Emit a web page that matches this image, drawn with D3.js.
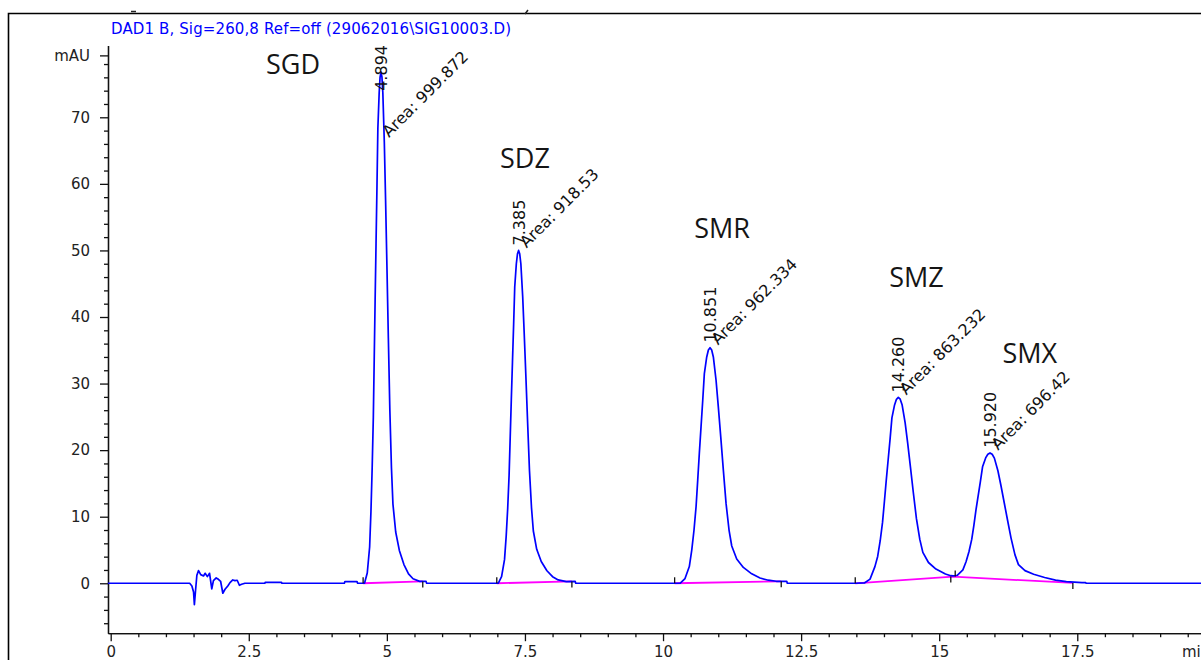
<!DOCTYPE html>
<html>
<head>
<meta charset="utf-8">
<title>DAD1 B chromatogram</title>
<script src="https://cdn.jsdelivr.net/npm/d3@7"></script>
<style>
	body { margin: 0; background: #fff; }
	svg text { font-family: "DejaVu Sans", sans-serif; }
	.tick text { font-size: 15px; fill: #222; }
	.peak-name { font-family: "Open Sans", sans-serif; font-size: 27px; fill: #151515; text-anchor: middle; }
</style>
</head>
<body>
<div id="chart"></div>
<script>
	// ---- data ----
	var title = 'DAD1 B, Sig=260,8 Ref=off (29062016\\SIG10003.D)';
	var yTicks = [0, 10, 20, 30, 40, 50, 60, 70];
	var xTicks = [0, 2.5, 5, 7.5, 10, 12.5, 15, 17.5];
	var yUnit = 'mAU', yUnitValue = 79.3, xUnit = 'min';

	var peakNames = ['SGD', 'SDZ', 'SMR', 'SMZ', 'SMX'];
	var peakTimes = [4.894, 7.385, 10.851, 14.260, 15.920];
	var peakHeights = [76.8, 50.0, 35.4, 27.9, 19.6];
	var peakAreas = ['999.872', '918.53', '962.334', '863.232', '696.42'];

	// signal trace (time in min, absorbance in mAU), one piece per region
	var noiseTrace = [[-0.05,0],[1.43,0],[1.47,-0.4],[1.50,-1.3],[1.515,-3.2],[1.535,-1.2],[1.56,1.2],[1.59,1.9],[1.63,1.3],
		[1.68,1.1],[1.71,1.5],[1.75,1.0],[1.79,1.5],[1.83,-0.85],[1.86,0.4],[1.91,0.8],[1.95,0.6],[1.99,0.3],[2.03,-1.5],
		[2.07,-0.9],[2.12,-0.4],[2.16,0.1],[2.21,0.5],[2.25,0.4],[2.29,0.45],[2.33,-0.3],[2.37,-0.15],[2.43,0]];
	var driftTrace = [[2.79,0],[2.80,0.15],[3.09,0.15],[3.10,0],[4.23,0],[4.24,0.25],[4.46,0.25],[4.47,0]];
	var sgdTrace = [[4.595,0],[4.645,1.54],[4.688,5.45],[4.712,10.83],[4.734,17.36],[4.755,24.96],[4.771,33.64],[4.787,42.32],
		[4.804,51.0],[4.821,59.67],[4.837,68.35],[4.861,73.73],[4.877,76.03],[4.894,76.8],[4.911,76.03],[4.927,73.73],
		[4.954,66.2],[4.977,57.52],[5.001,47.69],[5.027,36.86],[5.054,26.04],[5.083,17.36],[5.11,11.9],[5.16,7.7],
		[5.226,4.94],[5.309,2.81],[5.392,1.42],[5.474,0.68],[5.593,0.28],[5.71,0.28],[5.72,0]];
	var sdzTrace = [[7.016,0],[7.077,1.0],[7.13,3.55],[7.16,7.05],[7.188,11.3],[7.213,16.25],[7.233,21.9],[7.253,27.55],
		[7.274,33.2],[7.295,38.85],[7.315,44.5],[7.344,48.0],[7.365,49.5],[7.385,50.0],[7.405,49.5],[7.426,48.0],[7.459,43.1],
		[7.487,37.45],[7.517,31.05],[7.549,24.0],[7.582,16.95],[7.619,11.3],[7.652,7.85],[7.713,5.1],[7.795,3.26],
		[7.898,1.88],[8.0,0.99],[8.102,0.5],[8.249,0.25],[8.41,0.28],[8.42,0]];
	var smrTrace = [[10.308,0],[10.398,0.71],[10.476,2.51],[10.52,4.99],[10.561,8.0],[10.598,11.5],[10.628,15.5],[10.657,19.5],
		[10.688,23.5],[10.719,27.5],[10.748,31.5],[10.791,34.0],[10.821,35.05],[10.851,35.4],[10.881,35.05],[10.911,34.0],
		[10.96,30.5],[11.001,26.5],[11.045,22.0],[11.092,17.0],[11.141,12.0],[11.195,8.0],[11.244,5.6],[11.334,3.65],
		[11.454,2.38],[11.606,1.42],[11.756,0.79],[11.906,0.46],[12.05,0.3],[12.24,0.3],[12.25,0]];
	var smzSmxTrace = [[13.48,0],[13.646,0.05],[13.748,0.63],[13.836,2.5],[13.886,4.03],[13.932,6.39],[13.974,9.14],[14.008,12.28],
		[14.041,15.42],[14.076,18.56],[14.111,21.7],[14.144,24.84],[14.192,26.79],[14.226,27.63],[14.26,27.92],[14.294,27.65],
		[14.328,26.83],[14.383,24.14],[14.43,21.02],[14.479,17.48],[14.532,13.6],[14.588,9.7],[14.649,6.59],[14.704,4.64],
		[14.806,3.12],[14.941,2.13],[15.113,1.4],[15.209,1.14],[15.25,1.1],[15.283,1.13],[15.327,1.2],[15.429,2.02],
		[15.486,3.23],[15.54,4.77],[15.589,6.59],[15.628,8.69],[15.666,11.02],[15.706,13.16],[15.747,15.34],[15.785,17.49],
		[15.841,18.83],[15.881,19.39],[15.92,19.58],[15.959,19.38],[15.999,18.8],[16.063,16.9],[16.117,14.73],[16.174,12.25],
		[16.236,9.54],[16.3,6.82],[16.371,4.3],[16.435,2.8],[16.553,1.9],[16.71,1.35],[16.909,0.87],[17.106,0.47],
		[17.302,0.26],[17.584,0.1],[17.65,0.1],[17.66,0],[19.74,0]];

	// integration baselines and their start / end marks
	var integBaselines = [
		[[4.57,0],[5.65,0.28]],
		[[6.99,0],[8.35,0.28]],
		[[10.21,0],[12.14,0.3]],
		[[13.48,0],[15.25,1.0],[17.42,0.05]]
	];
	var integStarts = [[4.57,0],[6.99,0],[10.21,0],[13.48,0],[15.29,1.0]];
	var integEnds = [[5.65,0.28],[8.35,0.28],[12.14,0.3],[15.21,1.0],[17.42,0.05]];

	// ---- layout ----
	var w = 1201,
		h = 660,
		plotTop = 45;

	var svg = d3.select('#chart')
		.append('svg')
		.attr('width', w)
		.attr('height', h);

	var xScale = d3.scaleLinear().domain([-0.0489, 19.74]).range([108, 1201]);
	var yScale = d3.scaleLinear().domain([-7.5, 80.8]).range([633.2, 45.4]);

	// outer frame (left and top edge of the window)
	svg.append('path')
		.attr('d', 'M8.5,660V13.5H1201')
		.attr('fill', 'none')
		.attr('stroke', '#000')
		.attr('stroke-width', 1.6);
	// small cut-off marks above the frame
	svg.append('path')
		.attr('d', 'M131,11.5H136M525,14L528,10')
		.attr('stroke', '#222')
		.attr('stroke-width', 1.5);

	svg.append('text')
		.attr('x', 111)
		.attr('y', 34)
		.attr('fill', '#0000ff')
		.attr('textLength', 400)
		.style('font-size', '15px')
		.text(title);

	// ---- axes ----
	var isMajorY = function(v) { return Math.abs(v % 10) < 1e-9; };
	var isMajorX = function(v) { return Math.abs(v / 2.5 - Math.round(v / 2.5)) < 1e-9; };

	var yMinor = d3.range(-6, 80, 2).filter(function(v) { return !isMajorY(v); });
	var xMinor = d3.range(0.5, 19.75, 0.5).filter(function(v) { return !isMajorX(v); });

	var yAxisG = svg.append('g').attr('transform', 'translate(108,0)');
	yAxisG.call(d3.axisLeft(yScale).tickValues(yTicks.concat([yUnitValue]))
		.tickSize(8).tickSizeOuter(0).tickPadding(10)
		.tickFormat(function(d) { return d === yUnitValue ? yUnit : d; }));
	yAxisG.append('g').call(d3.axisLeft(yScale).tickValues(yMinor).tickSize(4).tickSizeOuter(0).tickFormat(''));

	var xAxisG = svg.append('g').attr('transform', 'translate(0,633.2)');
	xAxisG.call(d3.axisBottom(xScale).tickValues(xTicks)
		.tickSize(8).tickSizeOuter(0).tickPadding(5)
		.tickFormat(function(d) { return d; }));
	xAxisG.append('g').call(d3.axisBottom(xScale).tickValues(xMinor).tickSize(4).tickSizeOuter(0).tickFormat(''));

	svg.selectAll('.domain, .tick line')
		.attr('stroke', '#111')
		.attr('stroke-width', 1.3);
	svg.selectAll('.tick text').attr('font-family', null).attr('font-size', null);

	// unit label runs off the right edge, as on the print
	svg.append('text')
		.attr('x', 1182)
		.attr('y', 657)
		.attr('fill', '#222')
		.style('font-size', '15px')
		.text(xUnit);

	// ---- signal ----
	var line = d3.line()
		.x(function(d) { return xScale(d[0]); })
		.y(function(d) { return yScale(d[1]); });

	var trace = [].concat(noiseTrace, driftTrace, sgdTrace, sdzTrace, smrTrace, smzSmxTrace);

	svg.append('g').selectAll('path.base')
		.data(integBaselines)
		.enter()
		.append('path')
		.attr('class', 'base')
		.attr('d', line)
		.attr('fill', 'none')
		.attr('stroke', '#ff00ff')
		.attr('stroke-width', 1.8);

	svg.append('path')
		.datum(trace)
		.attr('d', line)
		.attr('fill', 'none')
		.attr('stroke', '#0000ff')
		.attr('stroke-width', 1.7)
		.attr('stroke-linejoin', 'round');

	// integration marks: start marks point up, end marks point down
	svg.append('g').selectAll('line')
		.data(integStarts.map(function(d) { return [d, -1]; }).concat(integEnds.map(function(d) { return [d, 1]; })))
		.enter()
		.append('line')
		.attr('x1', function(d) { return xScale(d[0][0]); })
		.attr('x2', function(d) { return xScale(d[0][0]); })
		.attr('y1', function(d) { return yScale(d[0][1]); })
		.attr('y2', function(d) { return yScale(d[0][1]) + 6 * d[1]; })
		.attr('stroke', '#111')
		.attr('stroke-width', 1.3);

	// ---- peak annotations ----
	var labels = svg.append('g');
	peakTimes.forEach(function(t, i) {
		var px = xScale(t),
			py = yScale(peakHeights[i]);

		var rt = labels.append('text')
			.attr('fill', '#111')
			.style('font-size', '16px')
			.text(d3.format('.3f')(t));
		var rtLen = rt.node().getComputedTextLength();
		var rtBottom = Math.max(py - 5, plotTop + rtLen);
		rt.attr('transform', 'translate(' + (px + 6) + ',' + rtBottom + ') rotate(-90)');

		var area = labels.append('text')
			.attr('fill', '#111')
			.style('font-size', '16px')
			.text('Area: ' + peakAreas[i]);
		var areaLen = area.node().getComputedTextLength();
		var areaY = Math.max(py - 2, plotTop + 5 + (areaLen + 11) * Math.SQRT1_2);
		area.attr('transform', 'translate(' + (px + 8) + ',' + areaY + ') rotate(-45)');
	});

	// compound names, placed where they were written on the print
	var nameSpots = [[3.30, 76.5], [7.50, 62.4], [11.07, 51.9], [14.59, 44.5], [16.64, 33.1]];
	labels.selectAll('text.peak-name')
		.data(peakNames)
		.enter()
		.append('text')
		.attr('class', 'peak-name')
		.attr('x', function(d, i) { return xScale(nameSpots[i][0]); })
		.attr('y', function(d, i) { return yScale(nameSpots[i][1]); })
		.text(function(d) { return d; });
</script>
</body>
</html>
